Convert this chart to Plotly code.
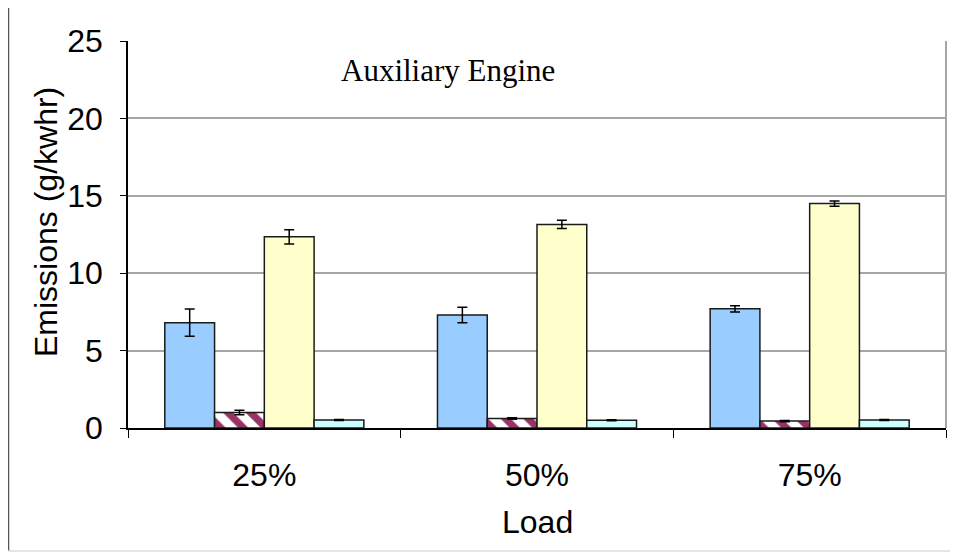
import plotly.graph_objects as go

# ---- data ----
loads = ["25%", "50%", "75%"]
series_names = ["Series 1", "Series 2", "Series 3", "Series 4"]
s1_vals = [6.8, 7.3, 7.7]
s1_err = [0.88, 0.5, 0.2]
s2_vals = [1.0, 0.62, 0.45]
s2_err = [0.15, 0.05, 0.04]
s3_vals = [12.35, 13.15, 14.5]
s3_err = [0.46, 0.27, 0.17]
s4_vals = [0.52, 0.5, 0.52]
s4_err = [0.03, 0.03, 0.03]
y_ticks = [0, 5, 10, 15, 20, 25]

# page has an 8px body margin, so the figure is drawn 8px in from the window edge
W, H = 950, 548
ML, MR, MT, MB = 120, 12, 33, 128
pw = W - ML - MR
ph = H - MT - MB

def px_x(x):
    return (x - ML) / pw

def px_y(y):
    return 1 - (y - MT) / ph

fig = go.Figure()

err_style = dict(type="data", visible=True, color="black", thickness=1.5, width=5)
line_style = dict(color="#1a1a1a", width=1.5)

fig.add_trace(go.Bar(name=series_names[0], x=loads, y=s1_vals,
                     error_y=dict(array=s1_err, **err_style),
                     marker=dict(color="#99CCFF", line=line_style)))
fig.add_trace(go.Bar(name=series_names[1], x=loads, y=s2_vals,
                     error_y=dict(array=s2_err, **err_style),
                     marker=dict(color="white", line=line_style,
                                 pattern=dict(shape="\\", fgcolor="#993366",
                                              bgcolor="white", size=16,
                                              solidity=0.45, fillmode="replace"))))
fig.add_trace(go.Bar(name=series_names[2], x=loads, y=s3_vals,
                     error_y=dict(array=s3_err, **err_style),
                     marker=dict(color="#FFFFCC", line=line_style)))
fig.add_trace(go.Bar(name=series_names[3], x=loads, y=s4_vals,
                     error_y=dict(array=s4_err, **err_style),
                     marker=dict(color="#CCFFFF", line=line_style)))

fig.update_layout(
    width=W, height=H,
    margin=dict(l=ML, r=MR, t=MT, b=MB, autoexpand=False),
    paper_bgcolor="white", plot_bgcolor="white",
    barmode="group", bargap=0.27, bargroupgap=0,
    showlegend=False,
    font=dict(family="Liberation Sans, Arial, sans-serif", size=32, color="black"),
)

fig.update_xaxes(
    type="category", tickson="boundaries", ticks="outside", ticklen=8,
    tickcolor="black", tickwidth=1, showline=True, linecolor="black", linewidth=1.5,
    showgrid=False, ticklabelstandoff=18, automargin=False,
)
fig.update_yaxes(
    range=[0, 25], tickvals=y_ticks, ticks="outside", ticklen=6, tickcolor="black",
    showline=True, linecolor="black", linewidth=1.5,
    showgrid=True, gridcolor="#a6a6a6", gridwidth=1.5, zeroline=False,
    ticklabelstandoff=11, automargin=False,
)

# axis titles
fig.add_annotation(text="Load", xref="paper", yref="paper",
                   x=0.5, y=px_y(522 - 8), xanchor="center", yanchor="middle",
                   showarrow=False, font=dict(size=32))
fig.add_annotation(text="Emissions (g/kwhr)", xref="paper", yref="paper",
                   x=px_x(46 - 8), y=px_y(222 - 8), xanchor="center", yanchor="middle",
                   textangle=-90, showarrow=False, font=dict(size=32))

# plot area border (right side) in gray
fig.add_shape(type="line", xref="paper", yref="paper", x0=1, x1=1, y0=0, y1=1,
              line=dict(color="#a6a6a6", width=2))
# outer frame lines (left and bottom)
fig.add_shape(type="line", xref="paper", yref="paper",
              x0=px_x(0.5), x1=px_x(0.5), y0=px_y(543), y1=px_y(-8),
              line=dict(color="#555555", width=1.5))
fig.add_shape(type="line", xref="paper", yref="paper",
              x0=px_x(0), x1=px_x(W), y0=px_y(543), y1=px_y(543),
              line=dict(color="#dddddd", width=1.5))

fig.add_annotation(text="Auxiliary Engine", xref="paper", yref="paper",
                   x=px_x(448 - 8), y=px_y(70 - 8), xanchor="center", yanchor="middle",
                   showarrow=False,
                   font=dict(family="Liberation Serif, Times New Roman, serif", size=31, color="black"))

fig.write_html("out.html")
